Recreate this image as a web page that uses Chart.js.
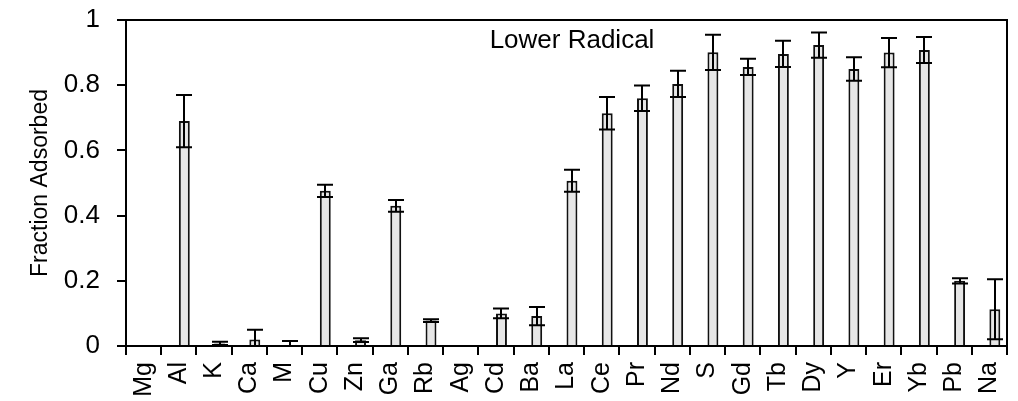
<!DOCTYPE html>
<html>
<head>
<meta charset="utf-8">
<script src="https://cdn.jsdelivr.net/npm/chart.js@4/dist/chart.umd.min.js"></script>
<style>
  body { margin: 0; background: #fff; }
  .wrap { width: 1018px; height: 401px; position: relative; }
</style>
</head>
<body>
<div class="wrap"><canvas id="chart"></canvas></div>
<script>
// ---- data ----
const elements = ['Mg', 'Al', 'K', 'Ca', 'M', 'Cu', 'Zn', 'Ga', 'Rb', 'Ag', 'Cd', 'Ba',
    'La', 'Ce', 'Pr', 'Nd', 'S', 'Gd', 'Tb', 'Dy', 'Y', 'Er', 'Yb', 'Pb', 'Na'];
const fraction = [0, 0.69, 0.008, 0.02, 0.003, 0.476, 0.018, 0.43, 0.078, 0.002, 0.1, 0.092,
    0.507, 0.714, 0.76, 0.804, 0.901, 0.856, 0.896, 0.923, 0.85, 0.9, 0.908, 0.2, 0.113];
const errors = [0, 0.08, 0.005, 0.03, 0.012, 0.019, 0.006, 0.018, 0.004, 0, 0.015, 0.028,
    0.034, 0.05, 0.039, 0.04, 0.054, 0.025, 0.04, 0.039, 0.036, 0.045, 0.04, 0.008, 0.092];
// the original sheet has an empty first series, so the bars sit right of the category centre
const emptySeries = [];
const yTickLabels = ['0', '0.2', '0.4', '0.6', '0.8', '1'];
const panelLabel = 'Lower Radical';

const FONT = "'Liberation Sans', Arial, sans-serif";

// error bars drawn on top of the bars
const errorBars = {
    id: 'errorBars',
    afterDatasetsDraw(chart) {
        const ctx = chart.ctx, y = chart.scales.y;
        const meta = chart.getDatasetMeta(1);
        ctx.save();
        ctx.strokeStyle = '#000';
        ctx.lineWidth = 2;
        meta.data.forEach((bar, i) => {
            const e = errors[i];
            if (!e) return;
            const top = y.getPixelForValue(fraction[i] + e);
            const bot = y.getPixelForValue(Math.max(0, fraction[i] - e));
            const x = Math.round(bar.x);
            ctx.beginPath();
            ctx.moveTo(x, top); ctx.lineTo(x, bot);
            ctx.moveTo(x - 8, top); ctx.lineTo(x + 8, top);
            if (fraction[i] - e > 0) { ctx.moveTo(x - 8, bot); ctx.lineTo(x + 8, bot); }
            ctx.stroke();
        });
        ctx.restore();
    }
};

// box around the plot + panel label
const frame = {
    id: 'frame',
    afterDraw(chart) {
        const ctx = chart.ctx, a = chart.chartArea;
        ctx.save();
        ctx.strokeStyle = '#000';
        ctx.lineWidth = 2;
        ctx.strokeRect(a.left, a.top, a.right - a.left, a.bottom - a.top);
        ctx.fillStyle = '#000';
        ctx.font = '26px ' + FONT;
        ctx.textAlign = 'center';
        ctx.textBaseline = 'alphabetic';
        ctx.fillText(panelLabel, 572, 48);
        ctx.restore();
    }
};

new Chart(document.getElementById('chart'), {
    type: 'bar',
    data: {
        labels: elements,
        datasets: [{
            data: emptySeries
        }, {
            data: fraction,
            backgroundColor: '#e6e6e6',
            borderColor: '#111',
            borderWidth: 2,
            borderSkipped: 'start'
        }]
    },
    options: {
        responsive: true,
        maintainAspectRatio: false,
        animation: false,
        devicePixelRatio: 1,
        datasets: { bar: { barPercentage: 1, categoryPercentage: 0.62 } },
        layout: { padding: { top: 20, right: 11, left: 0, bottom: 0 } },
        plugins: { legend: { display: false }, tooltip: { enabled: false } },
        scales: {
            x: {
                afterFit: (s) => { s.height = 55; s.paddingLeft = 0; s.paddingRight = 0; },
                grid: {
                    offset: true, drawOnChartArea: false, drawTicks: true,
                    tickLength: 9, color: '#000', lineWidth: 2
                },
                border: { display: true, color: '#000', width: 2 },
                ticks: {
                    autoSkip: false, maxRotation: 90, minRotation: 90, padding: 7,
                    color: '#000', font: { family: FONT, size: 25 }
                }
            },
            y: {
                min: 0, max: 1,
                afterFit: (s) => { s.width = 126; s.paddingTop = 0; s.paddingBottom = 0; },
                grid: {
                    drawOnChartArea: false, drawTicks: true,
                    tickLength: 9, color: '#000', lineWidth: 2
                },
                border: { display: true, color: '#000', width: 2 },
                ticks: {
                    stepSize: 0.2, padding: 17, color: '#000',
                    font: { family: FONT, size: 26 },
                    callback: (v, i) => yTickLabels[i]
                },
                title: {
                    display: true, text: 'Fraction Adsorbed', color: '#000',
                    font: { family: FONT, size: 23 },
                    padding: { top: 27, bottom: 0 }
                }
            }
        }
    },
    plugins: [errorBars, frame]
});
</script>
</body>
</html>
